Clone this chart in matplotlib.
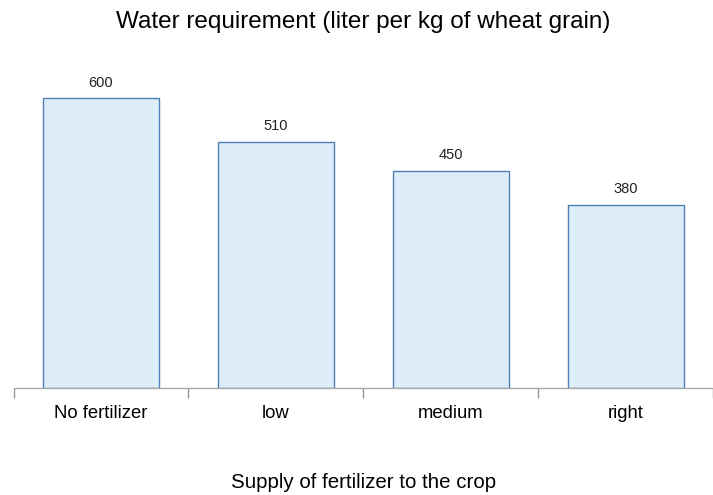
import matplotlib
matplotlib.use("Agg")
import matplotlib.pyplot as plt

categories = ["No fertilizer", "low", "medium", "right"]
values = [600, 510, 450, 380]
title = "Water requirement (liter per kg of wheat grain)"
xlabel = "Supply of fertilizer to the crop"

plt.rcParams['font.family'] = ['Liberation Sans', 'DejaVu Sans']

fig = plt.figure(figsize=(7.13, 4.95), dpi=100)
ax = fig.add_axes([13.5/713, (495-388)/495, 700/713, 338/495])

x = list(range(len(categories)))
bars = ax.bar(x, values, width=0.663, color="#ddeef9", edgecolor="#4f7fb5", linewidth=1.0)
for xi, v in zip(x, values):
    ax.annotate(str(v), (xi, v), xytext=(0, 6), textcoords="offset points",
                ha="center", va="bottom", fontsize=10.5, color="#222222")

ax.set_xlim(-0.5, len(categories) - 0.5)
ax.set_ylim(0, 700)
ax.set_xticks(x)
ax.set_xticklabels(categories, fontsize=13.3)
ax.tick_params(axis="x", which="major", length=0, pad=12)
ax.set_xticks([i - 0.5 for i in range(len(categories) + 1)], minor=True)
ax.tick_params(axis="x", which="minor", length=7, color="#999999", width=1)
ax.set_yticks([])
for s in ["top", "right", "left"]:
    ax.spines[s].set_visible(False)
ax.spines["bottom"].set_color("#aaaaaa")
ax.spines["bottom"].set_linewidth(1)

fig.text(363.5/713, 1 - 22/495, title, ha="center", va="center", fontsize=17.5)
fig.text(363.5/713, 1 - 483/495, xlabel, ha="center", va="center", fontsize=14.8)

fig.savefig("out.png", dpi=100)
